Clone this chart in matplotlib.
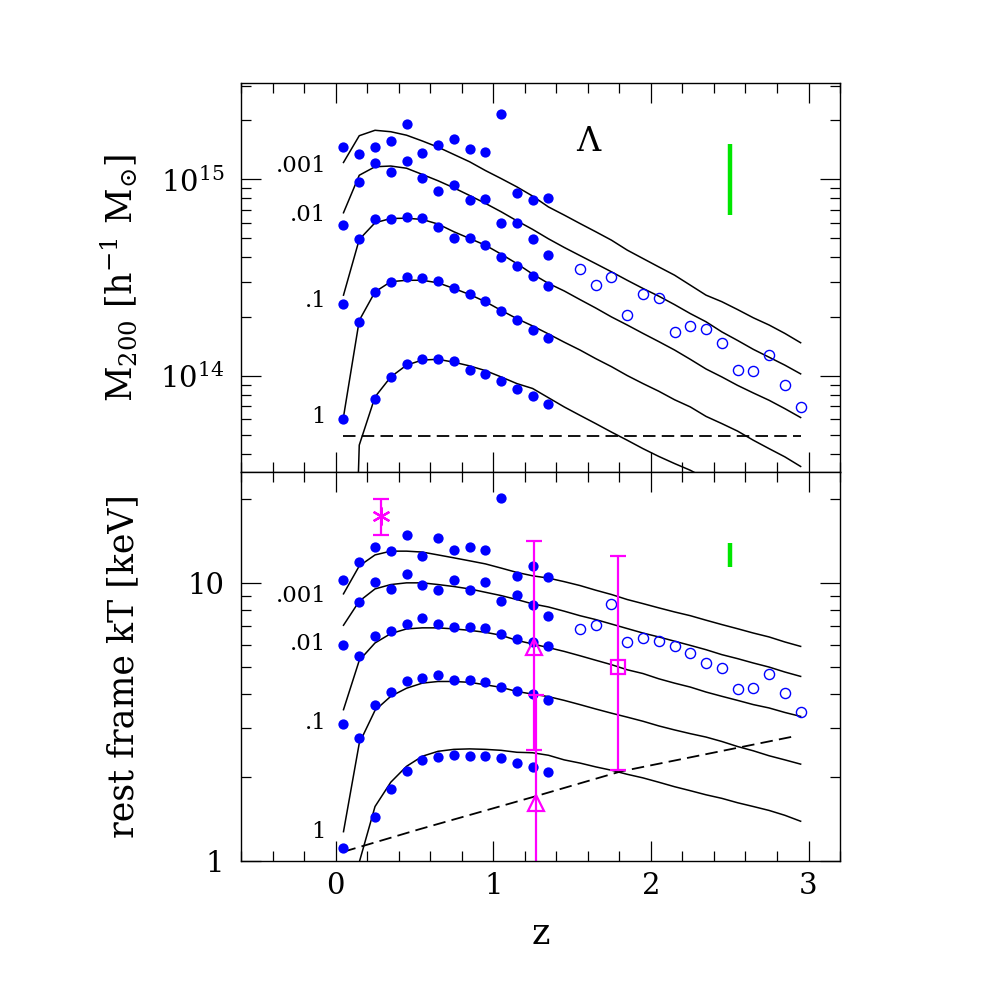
import numpy as np
import matplotlib.pyplot as plt
from matplotlib.ticker import MultipleLocator, LogLocator, NullFormatter, FixedLocator

# serif look, like the original
plt.rcParams['font.family'] = 'DejaVu Serif'
plt.rcParams['mathtext.fontset'] = 'dejavuserif'
plt.rcParams['lines.scale_dashes'] = False

nan = np.nan

# redshifts of the simulated clusters (filled) and the high-z ones (open)
z_sim = [0.05, 0.15, 0.25, 0.35, 0.45, 0.55, 0.65, 0.75, 0.85, 0.95, 1.05, 1.15, 1.25, 1.35]
z_obs = [1.55, 1.65, 1.75, 1.85, 1.95, 2.05, 2.15, 2.25, 2.35, 2.45, 2.55, 2.65, 2.75, 2.85, 2.95]
# model curve grid
z_curve = [0.05, 0.15, 0.25, 0.35, 0.45, 0.55, 0.65, 0.75, 0.85, 0.95, 1.05, 1.15, 1.25, 1.35,
           1.45, 1.55, 1.65, 1.75, 1.85, 1.95, 2.05, 2.15, 2.25, 2.35, 2.45, 2.55, 2.65, 2.75,
           2.85, 2.95]

# ---- masses, in units of 1e14 h^-1 Msun
mass_g1 = [14.7, 13.5, 14.7, 15.7, 19.1, 13.7, 14.9, 16.1, 14.3, 13.8, 21.5, 8.49, 7.85, 8.0]
mass_g2 = [5.85, 9.73, 12.1, 10.9, 12.4, 10.2, 8.75, 9.31, 7.81, 7.91, 5.96, 6.01, 4.94, 4.14]
mass_g3 = [2.31, 4.95, 6.30, 6.25, 6.44, 6.32, 5.73, 5.04, 5.05, 4.61, 4.02, 3.63, 3.22, 2.86]
mass_g4 = [0.601, 1.88, 2.66, 2.99, 3.18, 3.13, 3.04, 2.78, 2.60, 2.39, 2.14, 1.92, 1.70, 1.56]
mass_g5 = [nan, nan, 0.757, 0.984, 1.14, 1.21, 1.21, 1.19, 1.07, 1.02, 0.936, 0.853, 0.782, 0.717]
mass_obs = [3.48, 2.89, 3.18, 2.04, 2.60, 2.48, 1.67, 1.79, 1.72, 1.47, 1.07, 1.05, 1.28, 0.891, 0.692]

mcurve_001 = [12.2, 16.7, 17.8, 17.5, 16.8, 15.7, 14.6, 13.4, 12.3, 11.1, 10.1, 9.16, 8.22, 7.24,
              6.58, 5.96, 5.41, 4.90, 4.36, 3.95, 3.58, 3.25, 2.89, 2.57, 2.38, 2.17, 1.97, 1.81,
              1.64, 1.47]
mcurve_01 = [6.76, 10.5, 11.6, 11.7, 11.4, 10.6, 9.84, 9.06, 8.28, 7.55, 6.84, 6.15, 5.56, 4.98,
             4.50, 4.09, 3.72, 3.38, 3.06, 2.78, 2.54, 2.30, 2.07, 1.88, 1.67, 1.51, 1.36, 1.24,
             1.13, 1.02]
mcurve_1 = [2.57, 4.94, 6.01, 6.32, 6.34, 6.25, 5.92, 5.41, 5.00, 4.62, 4.16, 3.72, 3.29, 2.95,
            2.70, 2.44, 2.21, 1.99, 1.81, 1.64, 1.49, 1.35, 1.21, 1.08, 0.984, 0.891, 0.815, 0.748,
            0.678, 0.611]
mcurve_10 = [0.615, 1.91, 2.67, 3.01, 3.06, 3.06, 2.97, 2.78, 2.59, 2.38, 2.15, 1.95, 1.79, 1.63,
             1.48, 1.35, 1.22, 1.11, 1.00, 0.910, 0.832, 0.753, 0.692, 0.619, 0.569, 0.521, 0.468,
             0.424, 0.385, 0.344]
mcurve_100 = [0.001, 0.442, 0.778, 0.984, 1.13, 1.20, 1.21, 1.17, 1.12, 1.06, 0.984, 0.910, 0.859,
              0.771, 0.692, 0.627, 0.569, 0.515, 0.468, 0.424, 0.387, 0.356, 0.329, 0.298]

z_mlim = [0.05, 2.95]
mass_lim = [0.49, 0.49]

# ---- temperatures, keV
kt_g1 = [10.2, 11.9, 13.5, 13.0, 14.8, 12.5, 14.5, 13.1, 13.4, 13.1, 20.2, 10.6, 11.5, 10.5]
kt_g2 = [5.96, 8.52, 10.1, 9.54, 10.8, 9.86, 9.46, 10.2, 9.41, 10.1, 8.64, 9.08, 8.33, 7.58]
kt_g3 = [3.12, 5.44, 6.46, 6.73, 7.11, 7.48, 7.11, 6.94, 6.94, 6.86, 6.53, 6.28, 6.11, 5.91]
kt_g4 = [1.11, 2.76, 3.64, 4.04, 4.44, 4.56, 4.66, 4.48, 4.46, 4.39, 4.23, 4.09, 4.00, 3.80]
kt_g5 = [nan, nan, 1.44, 1.82, 2.10, 2.30, 2.37, 2.41, 2.39, 2.39, 2.34, 2.25, 2.17, 2.09]
kt_obs = [6.84, 7.08, 8.42, 6.13, 6.32, 6.17, 5.95, 5.60, 5.15, 4.94, 4.17, 4.20, 4.69, 4.03, 3.42]

tcurve_001 = [9.13, 11.5, 12.6, 13.0, 13.0, 12.9, 12.6, 12.3, 12.0, 11.7, 11.3, 10.9, 10.6, 10.4,
              10.1, 9.78, 9.41, 9.08, 8.71, 8.42, 8.13, 7.86, 7.62, 7.34, 7.08, 6.84, 6.60, 6.39,
              6.13, 5.91]
tcurve_01 = [7.04, 8.59, 9.51, 9.86, 10.0, 10.0, 9.86, 9.70, 9.51, 9.25, 9.00, 8.71, 8.40, 8.19,
             7.91, 7.62, 7.38, 7.11, 6.85, 6.60, 6.39, 6.17, 5.96, 5.75, 5.52, 5.34, 5.15, 4.98,
             4.78, 4.61]
tcurve_1 = [3.50, 5.26, 6.08, 6.57, 6.83, 6.89, 6.89, 6.83, 6.75, 6.64, 6.48, 6.21, 6.03, 5.85,
            5.67, 5.47, 5.27, 5.08, 4.87, 4.72, 4.52, 4.36, 4.22, 4.05, 3.91, 3.78, 3.65, 3.55,
            3.42, 3.31]
tcurve_10 = [1.275, 2.65, 3.48, 3.91, 4.18, 4.36, 4.42, 4.42, 4.39, 4.30, 4.21, 4.07, 3.98, 3.90,
             3.78, 3.65, 3.52, 3.40, 3.29, 3.18, 3.06, 2.96, 2.87, 2.79, 2.69, 2.58, 2.49, 2.39,
             2.31, 2.23]
tcurve_100 = [0.3, 0.99, 1.57, 1.92, 2.19, 2.38, 2.48, 2.52, 2.53, 2.52, 2.50, 2.46, 2.45, 2.40,
              2.31, 2.25, 2.18, 2.12, 2.05, 1.99, 1.92, 1.85, 1.79, 1.73, 1.68, 1.62, 1.57, 1.52,
              1.46, 1.39]

z_tlim = [0.05, 0.53, 1.27, 1.81, 2.59, 2.90]
kt_lim = [1.08, 1.30, 1.71, 2.10, 2.58, 2.80]

# measured clusters (magenta): z, kT, lower, upper
z_meas = [0.29, 1.26, 1.27, 1.79]
kt_meas = [17.4, 5.9, 1.61, 5.0]
kt_lo = [14.9, 2.50, 0.5, 2.13]
kt_hi = [19.95, 14.1, 3.96, 12.5]
meas_marker = [(6, 2, 0), '^', '^', 's']
meas_size = [13, 11, 11, 10]

# green scatter bars
z_bar = [2.5, 2.5]
mass_bar = [6.58, 15.1]
kt_bar = [11.4, 13.9]

labels = ['.001', '.01', '.1', '1']
mass_lab = [11.7, 6.58, 2.40, 0.615]
kt_lab = [8.95, 6.03, 3.13, 1.275]

blue = '#0000ff'
mag = '#ff00ff'
green = '#00e600'

fig = plt.figure(figsize=(9.81, 9.81), dpi=100)
ax1 = fig.add_axes([0.2457, 0.5192, 0.6106, 0.3959])
ax2 = fig.add_axes([0.2457, 0.1223, 0.6106, 0.3969])

# ---------------- top panel: mass
scale = 1e14
for mc in [mcurve_001, mcurve_01, mcurve_1, mcurve_10, mcurve_100]:
    ax1.plot(z_curve[:len(mc)], np.array(mc) * scale, color='k', lw=1.1)
ax1.plot(z_mlim, np.array(mass_lim) * scale, color='k', lw=1.3, dashes=(9, 4.5))
for g in [mass_g1, mass_g2, mass_g3, mass_g4, mass_g5]:
    ax1.plot(z_sim, np.array(g) * scale, 'o', color=blue, ms=7.4, mew=0)
ax1.plot(z_obs, np.array(mass_obs) * scale, 'o', mfc='none', mec=blue, ms=7.3, mew=1.0)
ax1.plot(z_bar, np.array(mass_bar) * scale, color=green, lw=3.2, solid_capstyle='butt')
for lab, m in zip(labels, mass_lab):
    ax1.text(-0.06, m * scale, lab, ha='right', va='center', fontsize=16.5)
ax1.text(1.605, 1.55e15, 'Λ', ha='center', va='center', fontsize=24)

ax1.set_yscale('log')
ax1.set_ylim(10**13.51, 10**15.49)
ax1.set_yticks([1e14, 1e15])
ax1.set_yticklabels([r'$10^{14}$', r'$10^{15}$'])
ax1.set_ylabel(r'M$_{200}$ [h$^{-1}$ M$_{\odot}$]', fontsize=25)

# ---------------- bottom panel: temperature
for tc in [tcurve_001, tcurve_01, tcurve_1, tcurve_10, tcurve_100]:
    ax2.plot(z_curve[:len(tc)], tc, color='k', lw=1.1)
ax2.plot(z_tlim, kt_lim, color='k', lw=1.3, dashes=(9, 4.5))
for g in [kt_g1, kt_g2, kt_g3, kt_g4, kt_g5]:
    ax2.plot(z_sim, g, 'o', color=blue, ms=7.4, mew=0)
ax2.plot(z_obs, kt_obs, 'o', mfc='none', mec=blue, ms=7.3, mew=1.0)
ax2.plot(z_bar, kt_bar, color=green, lw=3.2, solid_capstyle='butt')
for i in range(len(z_meas)):
    yerr = [[kt_meas[i] - kt_lo[i]], [kt_hi[i] - kt_meas[i]]]
    ax2.errorbar([z_meas[i]], [kt_meas[i]], yerr=yerr, fmt=' ', marker=meas_marker[i],
                 color=mag, mfc='none', mec=mag, ms=meas_size[i], mew=1.6,
                 elinewidth=1.6, capsize=6, capthick=1.6)
for lab, t in zip(labels, kt_lab):
    ax2.text(-0.06, t, lab, ha='right', va='center', fontsize=16.5)

ax2.set_yscale('log')
ax2.set_ylim(1, 25.1)
ax2.set_yticks([1, 10])
ax2.set_yticklabels(['1', '10'])
ax2.yaxis.set_minor_locator(FixedLocator([2, 3, 4, 5, 6, 7, 8, 9, 20]))
ax2.set_ylabel('rest frame kT [keV]', fontsize=25)
ax2.set_xlabel('z', fontsize=25, labelpad=12)

for ax in (ax1, ax2):
    ax.set_xlim(-0.6, 3.2)
    ax.set_xticks([0, 1, 2, 3])
    ax.xaxis.set_minor_locator(MultipleLocator(0.2))
    ax.yaxis.set_minor_formatter(NullFormatter())
    ax.tick_params(which='both', direction='in', top=True, right=True, width=0.9)
    ax.tick_params(which='major', length=14.5, labelsize=21, pad=12)
    ax.tick_params(which='minor', length=7.5)
    ax.tick_params(axis='x', which='major', pad=8)
    ax.yaxis.set_label_coords(-0.168, 0.5)
    for s in ax.spines.values():
        s.set_linewidth(1.0)
ax1.yaxis.set_minor_locator(LogLocator(base=10, subs=np.arange(2, 10)))
ax1.tick_params(labelbottom=False)

fig.savefig('out.png', dpi=100)
